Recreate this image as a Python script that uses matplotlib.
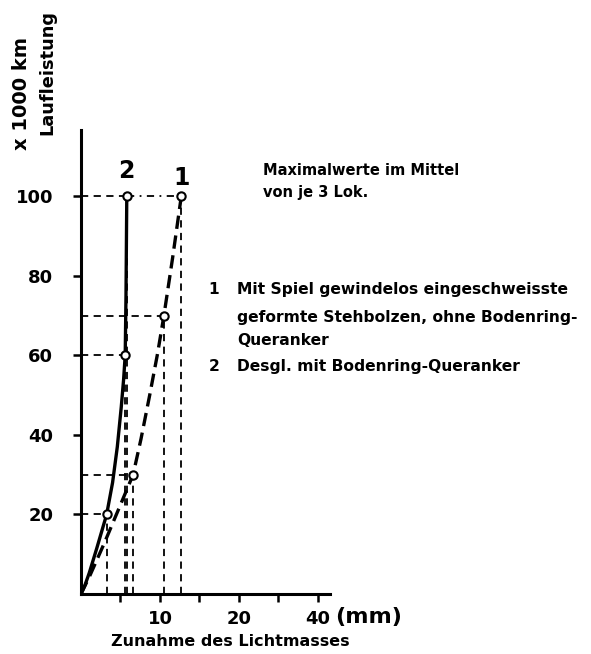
import numpy as np
import matplotlib.pyplot as plt

# curve 1 (dashed): points
c1_x = [0, 1.1, 3.0, 4.8, 6.6, 7.6, 8.7, 9.7, 10.5, 11.6, 12.7]
c1_y = [0, 4.5, 13, 21.5, 30, 39, 50, 60.5, 70, 84.5, 100]
# curve 1 measured points (open circles)
m1_x = [6.6, 10.5, 12.7]
m1_y = [30, 70, 100]

# curve 2 (solid)
c2_x = [0, 0.5, 1.05, 2.0, 3.25, 4.0, 4.6, 5.1, 5.4, 5.6, 5.7, 5.8]
c2_y = [0, 2.2, 5.3, 11.5, 20, 28, 37, 47, 54, 60, 75, 100]
m2_x = [3.25, 5.6, 5.8]
m2_y = [20, 60, 100]

xticks_major = [10, 20, 40]
xticks_minor = [5, 15, 30]
yticks = [20, 40, 60, 80, 100]


def fwd(x):
    x = np.asarray(x, dtype=float)
    return np.where(x <= 20, x, 20 + (x - 20) / 2)


def inv(y):
    y = np.asarray(y, dtype=float)
    return np.where(y <= 20, y, 20 + (y - 20) * 2)


plt.rcParams['font.family'] = ['DejaVu Sans']
fig = plt.figure(figsize=(5.91, 6.54), dpi=100)
ax = fig.add_axes([0.137, 0.0917, 0.421, 0.709])
ax.set_xscale('function', functions=(fwd, inv))
ax.set_xlim(0, 43)
ax.set_ylim(0, 116.6)

for s in ['top', 'right']:
    ax.spines[s].set_visible(False)
for s in ['left', 'bottom']:
    ax.spines[s].set_linewidth(2.2)

# drop lines
dash = (0, (4, 3))
for x, y in zip(m1_x + m2_x, m1_y + m2_y):
    ax.plot([x, x], [0, y], color='black', lw=1.3, ls=dash)
for x, y in zip(m2_x, m2_y):
    ax.plot([0, x], [y, y], color='black', lw=1.3, ls=dash)
for x, y in zip(m1_x[:2], m1_y[:2]):
    ax.plot([0, x], [y, y], color='black', lw=1.3, ls=dash)
ax.plot([m2_x[2], m1_x[2]], [100, 100], color='black', lw=1.3, ls=(0, (4, 3, 1, 3)))

ax.plot(c2_x, c2_y, color='black', lw=2.4, solid_capstyle='round', solid_joinstyle='round')
ax.plot(c1_x, c1_y, color='black', lw=2.4, ls=(0, (4, 2)))
ax.plot(m1_x, m1_y, 'o', ms=6, mfc='white', mec='black', mew=1.5)
ax.plot(m2_x, m2_y, 'o', ms=6, mfc='white', mec='black', mew=1.5)

ax.text(5.8, 103.3, '2', fontsize=17, fontweight='bold', ha='center', va='bottom')
ax.text(12.7, 101.5, '1', fontsize=17, fontweight='bold', ha='center', va='bottom')

ax.set_xticks(xticks_major)
ax.set_xticklabels([str(v) for v in xticks_major])
ax.set_xticks(xticks_minor, minor=True)
ax.set_yticks(yticks)
ax.set_yticklabels([str(v) for v in yticks])
ax.tick_params(axis='both', which='both', direction='out', width=1.8, length=5.5,
               labelsize=13)
ax.tick_params(axis='x', which='major', pad=6)
ax.tick_params(axis='y', which='major', pad=14.5)
for lb in ax.get_xticklabels() + ax.get_yticklabels():
    lb.set_fontweight('bold')

fig.text(0.567, 0.0566, '(mm)', fontsize=16, fontweight='bold', va='center', ha='left')
fig.text(0.39, 0.019, 'Zunahme des Lichtmasses', fontsize=11.5, fontweight='bold',
         ha='center', va='center')

fig.text(0.037, 0.771, 'x 1000 km', fontsize=14, fontweight='bold', rotation=90,
         ha='center', va='bottom')
fig.text(0.08, 0.794, 'Laufleistung', fontsize=12.8, fontweight='bold', rotation=90,
         ha='center', va='bottom')

fig.text(0.445, 0.740, 'Maximalwerte im Mittel', fontsize=10.5,
         fontweight='bold', ha='left', va='center')
fig.text(0.445, 0.705, 'von je 3 Lok.', fontsize=10.5,
         fontweight='bold', ha='left', va='center')

fs = 11.2
fig.text(0.353, 0.557, '1', fontsize=fs, fontweight='bold', ha='left', va='center')
fig.text(0.401, 0.557, 'Mit Spiel gewindelos eingeschweisste', fontsize=fs,
         fontweight='bold', ha='left', va='center')
fig.text(0.401, 0.514, 'geformte Stehbolzen, ohne Bodenring-', fontsize=fs,
         fontweight='bold', ha='left', va='center')
fig.text(0.401, 0.48, 'Queranker', fontsize=fs, fontweight='bold', ha='left', va='center')
fig.text(0.353, 0.44, '2', fontsize=fs, fontweight='bold', ha='left', va='center')
fig.text(0.401, 0.44, 'Desgl. mit Bodenring-Queranker', fontsize=fs,
         fontweight='bold', ha='left', va='center')

fig.savefig('out.png', dpi=100)
